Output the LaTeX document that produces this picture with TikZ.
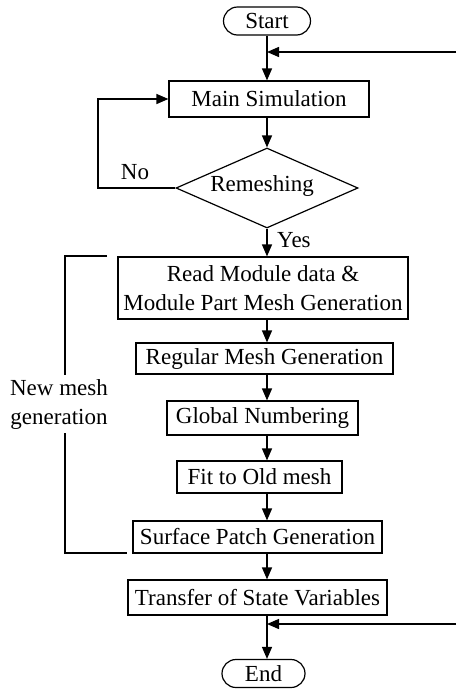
\documentclass[tikz,border=0pt]{standalone}
\usepackage{fontspec}
\setmainfont{Liberation Serif}
\usetikzlibrary{shapes.geometric,arrows.meta}
\begin{document}
\begin{tikzpicture}[x=1pt,y=-1pt,
  font=\fontsize{23}{29}\selectfont,
  box/.style={draw,line width=1.2pt,inner sep=0pt,align=center},
  term/.style={draw,line width=1.2pt,inner sep=0pt,rounded corners=14pt,minimum height=28pt},
  flow/.style={line width=1.4pt,-{Triangle[length=12pt,width=10pt]}},
  plain/.style={line width=1.4pt}]
\useasboundingbox (0,0) rectangle (456,691);

% main column of the flow chart
\coordinate (col) at (267,0);

% terminals and process boxes
\node[term,minimum width=87pt] (start) at (267,21) {Start};
\node[box,minimum width=200pt,minimum height=36pt] (main) at (269,99) {Main Simulation};
\node[draw,line width=1.2pt,diamond,aspect=2.275,minimum width=182pt,minimum height=80pt,inner sep=0pt] (dia) at (267,188) {};
\node (remtxt) at (262,186) {Remeshing};
\node[box,minimum width=290pt,minimum height=62pt] (read) at (263,288) {Read Module data \&\\Module Part Mesh Generation};
\node[box,minimum width=257pt,minimum height=31pt] (reg) at (264.5,358.5) {Regular Mesh Generation};
\node[box,minimum width=191pt,minimum height=34pt] (glob) at (262.5,418) {Global Numbering};
\node[box,minimum width=165pt,minimum height=32pt] (fit) at (259.5,477) {Fit to Old mesh};
\node[box,minimum width=249pt,minimum height=32pt] (surf) at (257.5,537) {Surface Patch Generation};
\node[box,minimum width=259pt,minimum height=35pt] (trans) at (257.5,597.5) {Transfer of State Variables};
\node[term,minimum width=83pt] (end) at (263.5,673.5) {End};

% junctions where the return lines come in from the right
\coordinate (j1) at (267,52);
\coordinate (j2) at (267,624);
\coordinate (rin1) at (456,52);
\coordinate (rin2) at (456,624);

% main flow
\draw[plain] (col |- start.south) -- (j1);
\draw[flow] (rin1) -- (j1);
\draw[flow] (j1) -- (col |- main.north);
\draw[flow] (col |- main.south) -- (dia.north);
\draw[flow] (dia.south) -- (col |- read.north);
\node[anchor=west,inner sep=0pt] (yes) at (277,240) {Yes};
\draw[flow] (col |- read.south) -- (col |- reg.north);
\draw[flow] (col |- reg.south) -- (col |- glob.north);
\draw[flow] (col |- glob.south) -- (col |- fit.north);
\draw[flow] (col |- fit.south) -- (col |- surf.north);
\draw[flow] (col |- surf.south) -- (col |- trans.north);
\draw[plain] (col |- trans.south) -- (j2);
\draw[flow] (rin2) -- (j2);
\draw[flow] (j2) -- (col |- end.north);

% "No" branch back to the simulation
\coordinate (loop) at (98,188);
\draw[flow] (dia.west) -- (loop) |- (main.west);
\node (no) at (135,172) {No};

% bracket marking the mesh generation steps
\coordinate (bt) at (107,256);
\coordinate (bl1) at (65,256);
\coordinate (bl2) at (65,553);
\coordinate (bb) at (127,553);
\draw[plain] (bt) -- (bl1) -- (bl2) -- (bb);
\node[fill=white,align=center,inner sep=4pt] (newmesh) at (59,404) {New mesh\\generation};
\end{tikzpicture}
\end{document}
